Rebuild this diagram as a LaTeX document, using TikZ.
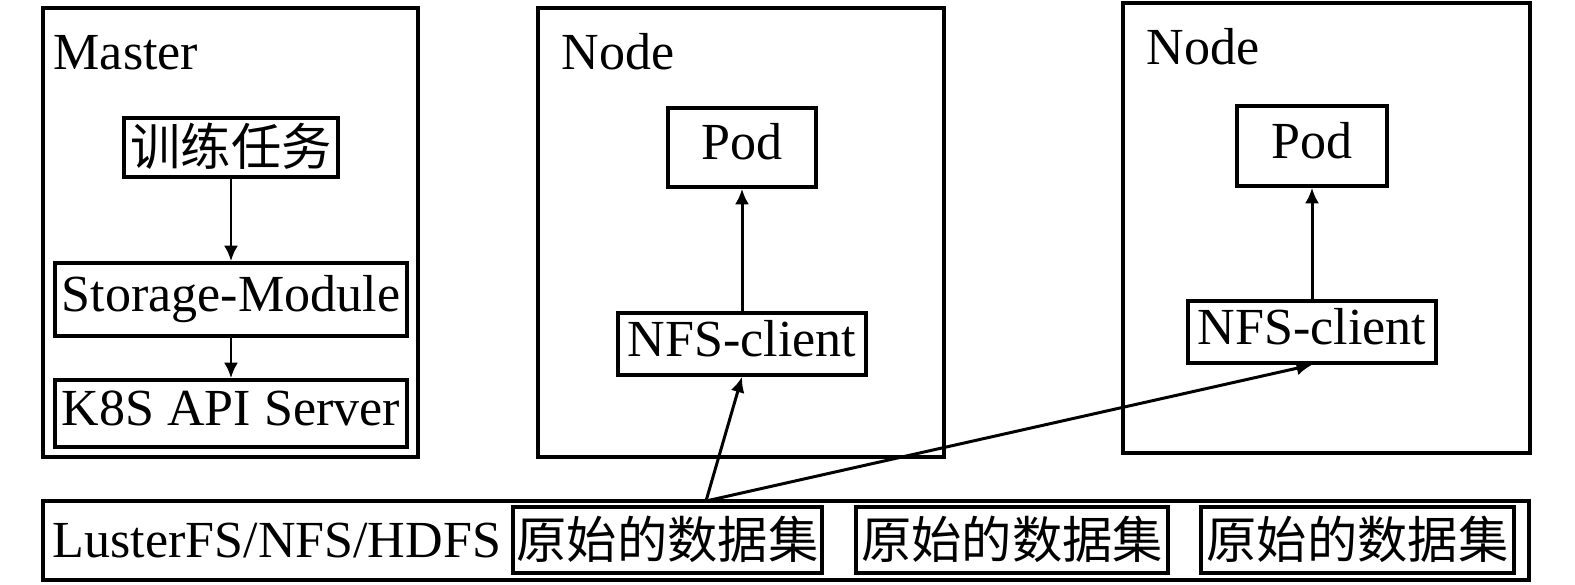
\documentclass[tikz,border=0pt]{standalone}
\usepackage{fontspec}
\setmainfont{Liberation Serif}
\newfontfamily\cjk{Noto Sans CJK SC}
\usetikzlibrary{arrows.meta,positioning}
\newlength\pixu
\setlength\pixu{0.01cm}

\begin{document}
\begin{tikzpicture}[x=0.01cm,y=-0.01cm,
					>={Latex[length=4.4pt,width=4pt]},
					font=\fontsize{14.8}{17}\selectfont,
					host/.style 2 args={draw,line width=1.05pt,inner sep=0pt,
						minimum width=#1\pixu,minimum height=#2\pixu},
					box/.style 2 args={draw,line width=1.05pt,inner sep=0pt,
						minimum width=#1\pixu,minimum height=#2\pixu,
						text height=10pt,text depth=3pt},
					cjkbox/.style 2 args={box={#1}{#2},
						font=\fontsize{14.3}{17}\selectfont\cjk,
						text height=11.8pt,text depth=1.5pt},
					title/.style={anchor=base west,inner sep=0pt}]

  \useasboundingbox (0,0) rectangle (1575,585);

  % master
  \node[host={375}{449}] (master) at (230.5,232.5) {};
  \node[title] (mastertitle) at (53,70) {Master};
  \node[cjkbox={214}{59}] (task) at (231,147.5) {训练任务};
  \node[box={352}{73}] (storage) at (231,299.5) {Storage-Module};
  \node[box={352}{67}] (apiserver) at (231,413.5) {K8S API Server};

  % node 1
  \node[host={406}{449}] (worker1) at (741,232.5) {};
  \node[title] (worker1title) at (561,70) {Node};
  \node[box={148}{79}] (pod1) at (742,147.5) {Pod};
  \node[box={248}{62}] (nfs1) at (742,344) {NFS-client};

  % node 2
  \node[host={407}{450}] (worker2) at (1326.5,228) {};
  \node[title] (worker2title) at (1146,65) {Node};
  \node[box={150}{80}] (pod2) at (1312,146) {Pod};
  \node[box={248}{62}] (nfs2) at (1312,332) {NFS-client};

  % shared storage
  \node[host={1486}{79}] (fs) at (786,540.5) {};
  \node[title] (fsname) at (52,557) {LusterFS/NFS/HDFS};
  \node[cjkbox={309}{66}] (data1) at (667.5,540) {原始的数据集};
  \node[cjkbox={312}{66}] (data2) at (1012,540) {原始的数据集};
  \node[cjkbox={313}{66}] (data3) at (1357.5,540) {原始的数据集};
  \coordinate (src) at (706,501);

  \path[->,line width=0.85pt]
    (task) edge (storage)
    (storage) edge (apiserver)
    (nfs1) edge (pod1)
    (nfs2) edge (pod2)
    (src) edge (nfs1.south)
          edge (nfs2.south);
\end{tikzpicture}
\end{document}
